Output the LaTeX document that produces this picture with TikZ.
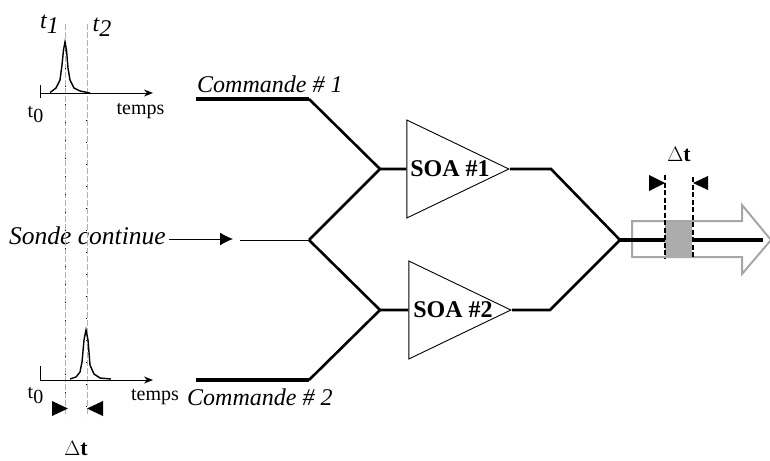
\documentclass[tikz,border=0pt]{standalone}
\usepackage{fontspec}
\setmainfont{Liberation Serif}
\usetikzlibrary{shapes.geometric,arrows.meta}
\newcommand{\indice}[2]{#1\raisebox{-5pt}{#2}}
\tikzset{
    fibre/.style={line width=2.6pt,line join=miter},
    fibregrasse/.style={line width=3.4pt,line join=miter},
    fibrefine/.style={line width=1pt},
    soabox/.style={isosceles triangle,isosceles triangle stretches,draw,line width=0.9pt,inner sep=0pt,minimum width=98pt,minimum height=102pt,anchor=apex},
    soatext/.style={font=\fontsize{24}{24}\selectfont\bfseries},
    voie/.style={font=\fontsize{24}{24}\selectfont\itshape,inner sep=0pt},
    legende/.style={font=\fontsize{20}{20}\selectfont,inner sep=0pt},
    repere/.style={color=gray!60,line width=1.2pt,dash pattern=on 6pt off 2pt},
    coupe/.style={line width=1.5pt,dash pattern=on 5pt off 2.5pt},
    axe/.style={line width=1pt,-{Stealth[length=9pt,width=7pt]}},
    butee/.style={fill=black,draw=none},
}
\begin{document}
\begin{tikzpicture}[x=1pt,y=-1pt]
    \useasboundingbox (0,0) rectangle (770,460);

    \coordinate (cmdA) at (196,99);
    \coordinate (cmdAcoude) at (309,99);
    \coordinate (cmdB) at (196,380);
    \coordinate (cmdBcoude) at (309,380);
    \coordinate (jonctionA) at (380,169);
    \coordinate (jonctionB) at (380,310);
    \coordinate (entree) at (240,240);
    \coordinate (separe) at (309,240);
    \coordinate (sortieA) at (551,169);
    \coordinate (sortieB) at (550,310);
    \coordinate (sortie) at (620,240);
    \coordinate (fin) at (763,240);

    \node[soabox] (soaA) at (510,169) {};
    \node[soabox] (soaB) at (512,310) {};
    \node[soatext] (soaAtext) at (450,169) {SOA \#1};
    \node[soatext] (soaBtext) at (453,310) {SOA \#2};

    \draw [fibregrasse](cmdA) -- (cmdAcoude);
    \draw [fibre](cmdAcoude) -- (jonctionA);
    \draw [fibregrasse](cmdB) -- (cmdBcoude);
    \draw [fibre](cmdBcoude) -- (jonctionB);
    \draw [fibrefine](entree) -- (separe);
    \draw [fibre](separe) -- (jonctionA) -- (soaA.west);
    \draw [fibre](separe) -- (jonctionB) -- (soaB.west);
    \draw [fibre](soaA.apex) -- (sortieA) -- (sortie);
    \draw [fibre](soaB.apex) -- (sortieB) -- (sortie);

    \node[voie,anchor=west] (cmdAtext) at (197,84) {Commande \# 1};
    \node[voie,anchor=west] (cmdBtext) at (187,397) {Commande \# 2};
    \node[voie,anchor=west,font=\fontsize{25.5}{25.5}\selectfont\itshape] (sonde) at (9,236) {Sonde continue};
    \coordinate (sondedebut) at (169,239);
    \coordinate (sondefin) at (233,239);
    \draw [line width=1pt,-{Latex[length=13pt,width=13pt]}](sondedebut) -- (sondefin);

    % impulsion de sortie
    \draw [line width=2pt,color=gray!70] (632,221) -- (742,221) -- (742,205) -- (771,240) -- (742,274) -- (742,257) -- (632,257) -- cycle;
    \node[rectangle,fill=gray!65,minimum width=27pt,minimum height=36pt,inner sep=0pt] (fenetre) at (678.5,240) {};
    \draw [fibregrasse](sortie) -- (fenetre.west);
    \draw [fibregrasse](fenetre.east) -- (fin);
    \draw [coupe](665,175) -- (665,259);
    \draw [coupe](693,177) -- (693,259);
    \fill [butee](649,175) -- (665,183) -- (649,191) -- cycle;
    \fill [butee](708,176) -- (693,183) -- (708,190) -- cycle;
    \node[legende,font=\fontsize{22}{22}\selectfont] (deltaS) at (679,155) {$\Delta$\textbf{t}};

    % instants de reference
    \draw [repere](65.5,24) -- (65.5,416);
    \draw [repere](87.5,24) -- (87.5,416);
    \draw [line width=1pt,dash pattern=on 1pt off 17pt](65,50) -- (65,400);
    \draw [line width=1pt,dash pattern=on 1pt off 21pt](86,120) -- (86,410);

    % signal du haut
    \draw [axe](40,93) -- (153,93);
    \draw [line width=1pt](40,85) -- (40,98);
    \draw [line width=1.4pt](50,92.5) -- (56,88) -- (60,80) -- (62,65) -- (63.5,50) -- (65,42) -- (66.5,50) -- (68,68) -- (70,80) -- (74,88) -- (80,91) -- (90,93);
    \node[legende] (tzeroA) at (35.5,114) {\indice{t}{0}};
    \node[legende] (tempsA) at (140.5,111) {temps};
    \node[voie] (tun) at (49.5,24) {\indice{t}{1}};
    \node[voie] (tdeux) at (102,27) {\indice{t}{2}};

    % signal du bas
    \draw [axe](40,380) -- (153,380);
    \draw [line width=1pt](40,366) -- (40,380);
    \draw [line width=1.4pt](70,379) -- (76,377) -- (80,372) -- (82,362) -- (84,340) -- (86,330) -- (88,340) -- (90,365) -- (94,374) -- (100,378) -- (111,379);
    \node[legende] (tzeroB) at (35.5,395) {\indice{t}{0}};
    \node[legende] (tempsB) at (155,397) {temps};
    \fill [butee](52,401) -- (68,408.5) -- (52,416) -- cycle;
    \fill [butee](103,401) -- (87,408.5) -- (103,416) -- cycle;
    \node[legende,font=\fontsize{22}{22}\selectfont] (deltaE) at (76,449) {$\Delta$\textbf{t}};
\end{tikzpicture}
\end{document}
